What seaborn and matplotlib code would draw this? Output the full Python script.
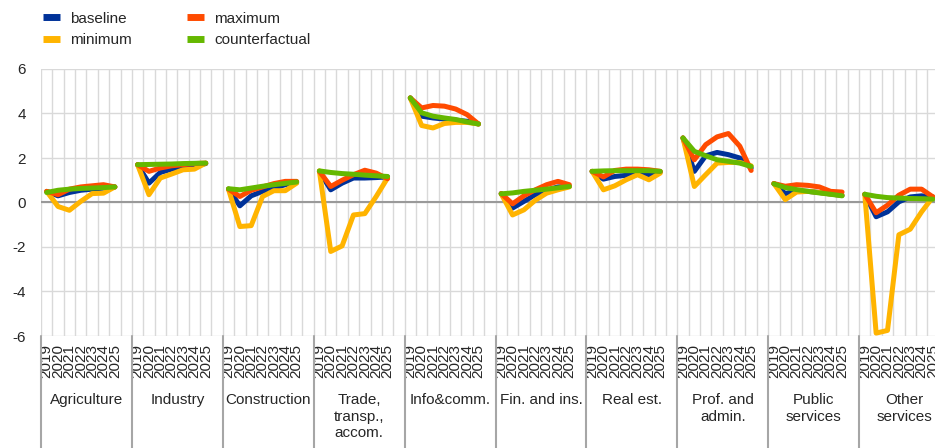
import numpy as np
import pandas as pd
import matplotlib
matplotlib.use("Agg")
import matplotlib.pyplot as plt
import matplotlib.transforms as mtransforms
from matplotlib.lines import Line2D
import seaborn as sns

# data
sectors = ["Agriculture", "Industry", "Construction", "Trade,\ntransp.,\naccom.",
           "Info&comm.", "Fin. and ins.", "Real est.", "Prof. and\nadmin.",
           "Public\nservices", "Other\nservices"]
years = ["2019", "2020", "2021", "2022", "2023", "2024", "2025"]

baseline = [
    [0.5, 0.3, 0.45, 0.55, 0.6, 0.65, 0.7],
    [1.7, 0.87, 1.35, 1.5, 1.6, 1.65, 1.75],
    [0.6, -0.15, 0.3, 0.5, 0.65, 0.8, 0.9],
    [1.4, 0.57, 0.87, 1.1, 1.1, 1.12, 1.15],
    [4.7, 3.88, 3.8, 3.75, 3.7, 3.65, 3.53],
    [0.4, -0.25, 0.05, 0.35, 0.55, 0.7, 0.72],
    [1.4, 1.05, 1.17, 1.22, 1.26, 1.22, 1.37],
    [2.9, 1.4, 2.1, 2.25, 2.15, 2.0, 1.55],
    [0.85, 0.4, 0.52, 0.5, 0.45, 0.38, 0.32],
    [0.37, -0.64, -0.42, 0.03, 0.25, 0.3, 0.25],
]
minimum = [
    [0.5, -0.18, -0.35, 0.05, 0.4, 0.42, 0.7],
    [1.7, 0.35, 1.1, 1.28, 1.47, 1.5, 1.77],
    [0.6, -1.08, -1.04, 0.27, 0.53, 0.53, 0.87],
    [1.42, -2.2, -1.95, -0.56, -0.5, 0.27, 1.1],
    [4.7, 3.46, 3.35, 3.55, 3.6, 3.6, 3.53],
    [0.39, -0.56, -0.33, 0.1, 0.42, 0.57, 0.7],
    [1.4, 0.57, 0.75, 1.02, 1.25, 1.02, 1.32],
    [2.9, 0.72, 1.25, 1.77, 1.8, 1.8, 1.65],
    [0.85, 0.13, 0.47, 0.5, 0.45, 0.38, 0.32],
    [0.37, -5.87, -5.75, -1.45, -1.2, -0.42, 0.25],
]
maximum = [
    [0.5, 0.35, 0.6, 0.7, 0.75, 0.8, 0.7],
    [1.7, 1.4, 1.55, 1.65, 1.7, 1.75, 1.77],
    [0.6, 0.27, 0.55, 0.7, 0.85, 0.95, 0.95],
    [1.4, 0.72, 1.0, 1.25, 1.45, 1.32, 1.07],
    [4.7, 4.25, 4.36, 4.33, 4.2, 3.95, 3.53],
    [0.4, -0.06, 0.3, 0.57, 0.8, 0.95, 0.8],
    [1.4, 1.15, 1.44, 1.5, 1.5, 1.47, 1.4],
    [2.9, 1.92, 2.6, 2.95, 3.1, 2.53, 1.44],
    [0.85, 0.73, 0.8, 0.77, 0.7, 0.5, 0.47],
    [0.37, -0.46, -0.12, 0.33, 0.6, 0.6, 0.25],
]
counterfactual = [
    [0.45, 0.55, 0.6, 0.63, 0.65, 0.67, 0.7],
    [1.7, 1.71, 1.72, 1.73, 1.75, 1.76, 1.77],
    [0.62, 0.57, 0.65, 0.73, 0.8, 0.86, 0.92],
    [1.42, 1.35, 1.3, 1.27, 1.23, 1.2, 1.17],
    [4.7, 4.03, 3.88, 3.8, 3.73, 3.62, 3.53],
    [0.39, 0.43, 0.5, 0.55, 0.6, 0.66, 0.72],
    [1.4, 1.42, 1.43, 1.43, 1.43, 1.43, 1.4],
    [2.9, 2.3, 2.1, 1.92, 1.85, 1.77, 1.62],
    [0.84, 0.67, 0.58, 0.5, 0.43, 0.37, 0.3],
    [0.37, 0.28, 0.22, 0.2, 0.18, 0.17, 0.15],
]

series = {"baseline": baseline, "minimum": minimum,
          "maximum": maximum, "counterfactual": counterfactual}
colors = {"baseline": "#003299", "minimum": "#FFB400",
          "maximum": "#FF4B00", "counterfactual": "#65B800"}

# long table, 8 slots per sector (7 years + a gap)
rows = []
for name, vals in series.items():
    for g, sec in enumerate(sectors):
        for i, yr in enumerate(years):
            rows.append({"pos": g * 8 + i, "value": vals[g][i],
                         "series": name, "sector": sec})
df = pd.DataFrame(rows)

sns.set_style("white")
plt.rcParams["font.family"] = ["Liberation Sans", "DejaVu Sans"]
plt.rcParams["font.size"] = 11

fig = plt.figure(figsize=(9.35, 4.48), dpi=100)
ax = fig.add_axes([41 / 935, 112 / 448, 909 / 935, 267 / 448])

sns.lineplot(data=df, x="pos", y="value", hue="series", units="sector",
             estimator=None, hue_order=list(series.keys()), palette=colors,
             lw=3.6, legend=False, ax=ax, zorder=3)

ax.set_xlim(-0.5, 79.5)
ax.set_ylim(-6, 6)
ax.set_yticks(np.arange(-6, 7, 2))
ax.set_yticklabels([str(v) for v in range(-6, 7, 2)])
ax.set_xticks([g * 8 + i for g in range(len(sectors)) for i in range(len(years))])
ax.set_xticklabels(years * len(sectors), rotation=90)
ax.set_xticks(np.arange(-0.5, 80, 1), minor=True)
ax.tick_params(axis="x", which="both", length=0, pad=6, labelsize=11)
ax.tick_params(axis="y", length=0, pad=11, labelsize=11)
ax.grid(False)
ax.grid(axis="x", which="minor", color="#d9d9d9", lw=1)
ax.grid(axis="y", which="major", color="#d9d9d9", lw=1)
ax.axhline(0, color="#999999", lw=1.5, zorder=2)
ax.set_xlabel("")
ax.set_ylabel("")
for s in ax.spines.values():
    s.set_visible(False)

# sector labels and separators under the axis
trans = mtransforms.blended_transform_factory(ax.transData, ax.transAxes)
for g, sec in enumerate(sectors):
    ax.text(g * 8 + 3.5, -0.215, sec, transform=trans, ha="center", va="top",
            fontsize=11, linespacing=1.22)
for g in range(len(sectors) + 1):
    ax.plot([g * 8 - 0.5, g * 8 - 0.5], [0, -0.45], transform=trans,
            color="#a6a6a6", lw=1.5, clip_on=False)

handles = [Line2D([0], [0], color=colors[n], lw=5, solid_capstyle="butt")
           for n in series]
fig.legend(handles, list(series.keys()), ncol=2, loc="upper left",
           bbox_to_anchor=(29 / 935, 1.005), frameon=False, fontsize=11,
           handlelength=1.1, handletextpad=0.7, columnspacing=3.6,
           labelspacing=0.5)

fig.savefig("out.png", dpi=100)
